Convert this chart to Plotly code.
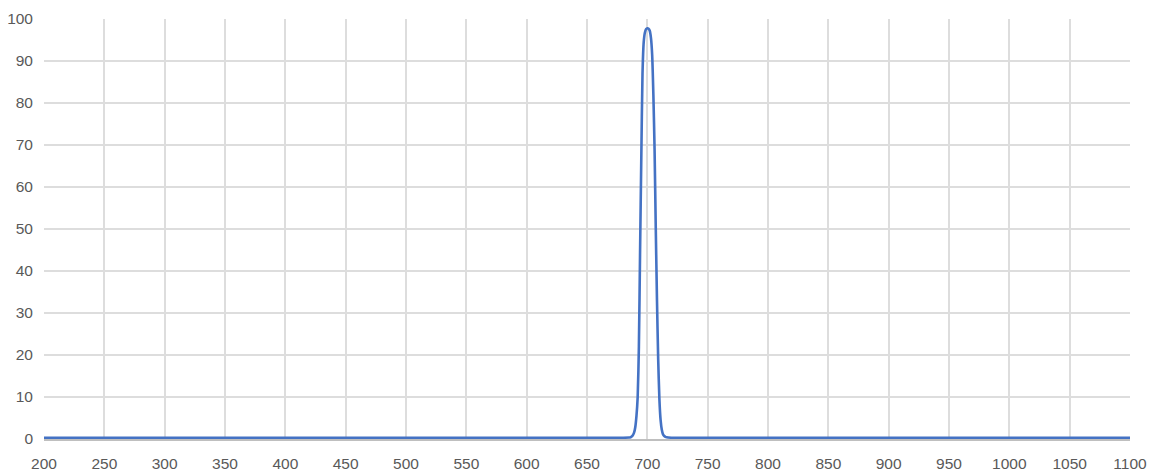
import plotly.graph_objects as go

# Transmission spectrum (wavelength nm, transmission %)
wavelength = [200, 300, 400, 500, 600, 650, 670, 680, 685, 686, 687, 688, 689,
              690, 691, 692, 693, 694, 695, 696, 697, 698, 699, 700, 701, 702,
              703, 704, 705, 706, 707, 708, 709, 710, 711, 712, 713, 714, 715,
              716, 720, 730, 750, 800, 900, 1000, 1100]
transmission = [0.3, 0.3, 0.3, 0.3, 0.3, 0.3, 0.3, 0.3, 0.35, 0.4, 0.6, 0.9, 1.5,
                2.8, 5.5, 10, 22, 45, 67, 87, 94.5, 96.8, 97.6, 97.8, 97.7, 97.2,
                95.5, 91.5, 82, 69, 50, 33, 19, 9.5, 4.5, 2.2, 1.1, 0.7, 0.5,
                0.4, 0.3, 0.3, 0.3, 0.3, 0.3, 0.3, 0.3]

fig = go.Figure()
fig.add_trace(go.Scatter(
    x=wavelength,
    y=transmission,
    mode="lines",
    line=dict(color="#4472C4", width=2.6, shape="spline", smoothing=0.6),
    hoverinfo="x+y",
))

axis_font = dict(family="Liberation Sans, Arial, sans-serif", size=15.5, color="#595959")

fig.update_layout(
    width=1153,
    height=475,
    margin=dict(l=44, r=23, t=19, b=36),
    paper_bgcolor="white",
    plot_bgcolor="white",
    showlegend=False,
    xaxis=dict(
        range=[200, 1100],
        dtick=50,
        tick0=200,
        automargin=False,
        showgrid=True,
        gridcolor="#dddddd",
        gridwidth=1.5,
        zeroline=False,
        showline=True,
        linecolor="#bfbfbf",
        linewidth=1.5,
        ticks="",
        tickfont=axis_font,
        ticklabelstandoff=10,
    ),
    yaxis=dict(
        range=[0, 100],
        dtick=10,
        automargin=False,
        showgrid=True,
        gridcolor="#dddddd",
        gridwidth=1.5,
        zeroline=False,
        showline=False,
        ticks="",
        tickfont=axis_font,
        ticklabelstandoff=10,
    ),
)

# drop the default page margin so the figure sits at the window's corner
fig.write_html("out.html", config={"displayModeBar": False},
               post_script="document.body.style.margin='0';")
